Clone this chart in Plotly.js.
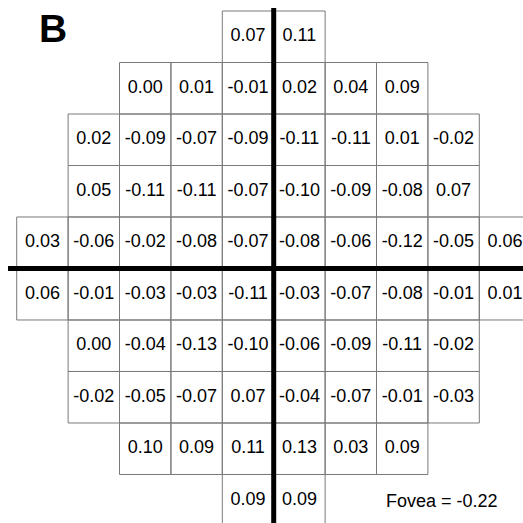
<!DOCTYPE html>
<html>
<head>
<meta charset="utf-8">
<script src="https://cdn.plot.ly/plotly-3.0.1.min.js"></script>
<style>html,body{margin:0;padding:0;background:#fff;}#chart{width:523px;height:523px;}</style>
</head>
<body>
<div id="chart"></div>
<script>
// First column index of each row of the visual field grid
const rowStart = [4, 2, 1, 1, 0, 0, 1, 1, 2, 4];
// Values in each row (left to right)
const row0 = [0.07, 0.11];
const row1 = [0.00, 0.01, -0.01, 0.02, 0.04, 0.09];
const row2 = [0.02, -0.09, -0.07, -0.09, -0.11, -0.11, 0.01, -0.02];
const row3 = [0.05, -0.11, -0.11, -0.07, -0.10, -0.09, -0.08, 0.07];
const row4 = [0.03, -0.06, -0.02, -0.08, -0.07, -0.08, -0.06, -0.12, -0.05, 0.06];
const row5 = [0.06, -0.01, -0.03, -0.03, -0.11, -0.03, -0.07, -0.08, -0.01, 0.01];
const row6 = [0.00, -0.04, -0.13, -0.10, -0.06, -0.09, -0.11, -0.02];
const row7 = [-0.02, -0.05, -0.07, 0.07, -0.04, -0.07, -0.01, -0.03];
const row8 = [0.10, 0.09, 0.11, 0.13, 0.03, 0.09];
const row9 = [0.09, 0.09];
const rows = [row0, row1, row2, row3, row4, row5, row6, row7, row8, row9];
const foveaValue = -0.22;
const panelLabel = "B";

const tx = [], ty = [], tt = [];
const lx = [], ly = [];
rows.forEach((vals, r) => {
  vals.forEach((v, i) => {
    const c = rowStart[r] + i;
    tx.push(c + 0.5); ty.push(r + 0.5); tt.push(v.toFixed(2));
    lx.push(c, c + 1, c + 1, c, c, null);
    ly.push(r, r, r + 1, r + 1, r, null);
  });
});

const traces = [
  {x: lx, y: ly, mode: 'lines', line: {color: '#7a7a7a', width: 1}, hoverinfo: 'skip', showlegend: false},
  {x: tx, y: ty, mode: 'text', text: tt, textposition: 'middle center',
   textfont: {family: 'Liberation Sans, Arial, sans-serif', size: 18, color: '#000'}, hoverinfo: 'skip', showlegend: false}
];

const layout = {
  width: 523, height: 523,
  margin: {l: 0, r: 0, t: 0, b: 0},
  paper_bgcolor: '#fff', plot_bgcolor: '#fff',
  showlegend: false,
  xaxis: {range: [-0.325, 9.850], visible: false, fixedrange: true},
  yaxis: {range: [9.942, -0.2136], visible: false, fixedrange: true},
  shapes: [
    {type: 'line', xref: 'x', yref: 'y', x0: 5, x1: 5, y0: -0.058, y1: 9.942, line: {color: '#000', width: 5}},
    {type: 'line', xref: 'x', yref: 'y', x0: -0.169, x1: 9.850, y0: 5, y1: 5, line: {color: '#000', width: 5}}
  ],
  annotations: [
    {xref: 'x', yref: 'y', x: 8.274, y: 9.515, text: 'Fovea = ' + foveaValue.toFixed(2), showarrow: false,
     xanchor: 'center', yanchor: 'middle', font: {family: 'Liberation Sans, Arial, sans-serif', size: 18, color: '#000'}},
    {xref: 'paper', yref: 'paper', x: 53 / 523, y: 1 - 28.7 / 523, text: '<b>' + panelLabel + '</b>', showarrow: false,
     xanchor: 'center', yanchor: 'middle', font: {family: 'Liberation Sans, Arial, sans-serif', size: 39, color: '#000'}}
  ]
};

Plotly.newPlot('chart', traces, layout, {displayModeBar: false, staticPlot: true});
</script>
</body>
</html>
